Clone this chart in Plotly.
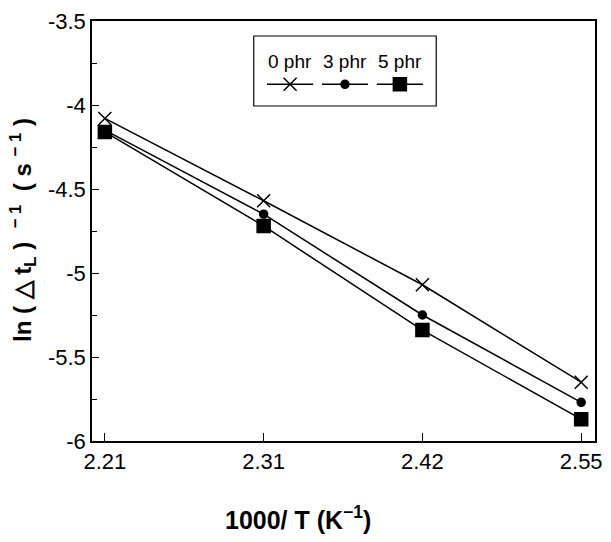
import plotly.graph_objects as go

# ---- data ----
x_labels = ["2.21", "2.31", "2.42", "2.55"]
series_names = ["0 phr", "3 phr", "5 phr"]
y_0phr = [-4.08, -4.57, -5.07, -5.65]
y_3phr = [-4.15, -4.65, -5.25, -5.77]
y_5phr = [-4.16, -4.72, -5.34, -5.87]
y_ticks = [-6, -5.5, -5, -4.5, -4, -3.5]
y_ticktext = ["-6", "-5.5", "-5", "-4.5", "-4", "-3.5"]
y_minor = [-5.75, -5.25, -4.75, -4.25, -3.75]

series = [y_0phr, y_3phr, y_5phr]
symbols = ["x-thin-open", "circle", "square"]
sizes = [13, 8, 13]

W, H = 611, 542
L, R, T, B = 92, 602, 21, 441   # plot area in px


def px(xp):
    return (xp - L) / (R - L)


def py(yp):
    return (B - yp) / (B - T)


fig = go.Figure()
for name, ys, sym, sz in zip(series_names, series, symbols, sizes):
    fig.add_trace(go.Scatter(
        x=x_labels, y=ys, mode="lines+markers", name=name,
        line=dict(color="black", width=1.5),
        marker=dict(symbol=sym, size=sz, color="black",
                    line=dict(color="black", width=1.5)),
        cliponaxis=False, showlegend=False,
    ))

# custom legend (text above glyph) on a helper axis
for i, (name, sym, sz) in enumerate(zip(series_names, symbols, sizes)):
    fig.add_trace(go.Scatter(
        x=[i + 0.08, i + 0.92], y=[0.31, 0.31], mode="lines",
        line=dict(color="black", width=1.5), xaxis="x2", yaxis="y2",
        showlegend=False, hoverinfo="skip"))
    fig.add_trace(go.Scatter(
        x=[i + 0.5], y=[0.31], mode="markers",
        marker=dict(symbol=sym, size=sz, color="black",
                    line=dict(color="black", width=1.5)),
        xaxis="x2", yaxis="y2", showlegend=False, hoverinfo="skip"))
    fig.add_annotation(x=i + 0.5, y=0.63, xref="x2", yref="y2", text=name,
                       showarrow=False, xanchor="center", yanchor="middle",
                       font=dict(family="Liberation Sans, Arial", size=19, color="black"))

fig.add_shape(type="rect", xref="paper", yref="paper",
              x0=px(256), x1=px(441), y0=py(106), y1=py(36),
              line=dict(color="black", width=1.2))

font_tick = dict(family="Liberation Sans, Arial", size=22, color="black")

fig.update_layout(
    width=W, height=H,
    margin=dict(l=L, r=W - R, t=T, b=H - B),
    paper_bgcolor="white", plot_bgcolor="white",
    xaxis=dict(type="category", range=[-0.081, 3.087],
               showline=True, mirror=True, linecolor="black", linewidth=1.5,
               ticks="inside", ticklen=8, tickwidth=1.2, tickcolor="black",
               showgrid=False, zeroline=False, tickfont=font_tick),
    yaxis=dict(range=[-6, -3.5], tickvals=y_ticks, ticktext=y_ticktext,
               showline=True, mirror=True, linecolor="black", linewidth=1.5,
               ticks="inside", ticklen=7, tickwidth=1.2, tickcolor="black",
               minor=dict(tickvals=y_minor, ticks="inside", ticklen=5,
                          tickwidth=1.2, tickcolor="black", showgrid=False),
               showgrid=False, zeroline=False, tickfont=font_tick),
    xaxis2=dict(domain=[px(265), px(432)], range=[0, 3], visible=False,
                anchor="y2", fixedrange=True),
    yaxis2=dict(domain=[py(106), py(36)], range=[0, 1], visible=False,
                anchor="x2", fixedrange=True),
    showlegend=False,
)

# axis titles
fig.add_annotation(x=px(301), y=py(518), xref="paper", yref="paper",
                   xanchor="center", yanchor="middle",
                   text="<b>1000/ T (K<sup>−1</sup>)</b>", showarrow=False,
                   font=dict(family="Liberation Sans, Arial", size=25, color="black"))
fig.add_annotation(x=px(22), y=py(230), xref="paper", yref="paper",
                   xanchor="center", yanchor="middle",
                   text="<b>ln ( △ t<sub>L</sub> )&nbsp; <sup>−&nbsp;1</sup>&nbsp; ( s <sup>−&nbsp;1</sup> )</b>",
                   textangle=-90, showarrow=False,
                   font=dict(family="Liberation Sans, Arial", size=24, color="black"))

fig.write_html("out.html")
